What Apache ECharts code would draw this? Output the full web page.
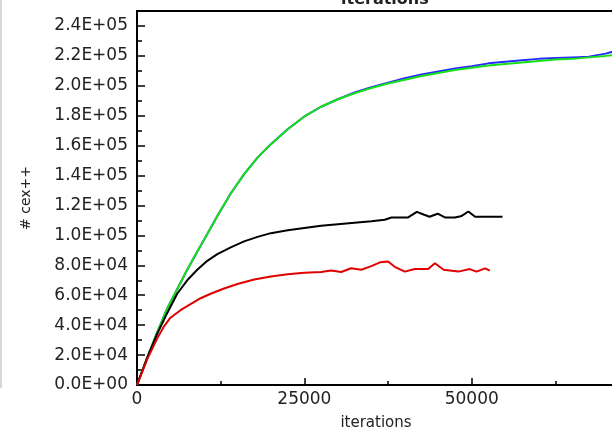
<!DOCTYPE html>
<html>
<head>
<meta charset="utf-8">
<script src="https://cdn.jsdelivr.net/npm/echarts@6/dist/echarts.min.js"></script>
<style>
  html, body { margin: 0; padding: 0; background: #fff; }
  #chart { width: 612px; height: 431px; }
</style>
</head>
<body>
<div id="chart"></div>
<script>
// iterations / values
const greenIter = [0, 1500, 3000, 4500, 6000, 7500, 9000, 10500, 12000, 14000, 16000, 18000, 20000, 22500, 25000, 27500, 30000, 32500, 35000, 37500, 40000, 42500, 45000, 47500, 50000, 52500, 55000, 57500, 60000, 62500, 65000, 67500, 70000, 72000];
const greenVal = [0, 18000, 35000, 51000, 64000, 77000, 89000, 101000, 113000, 128000, 141000, 152000, 161000, 171000, 179500, 186000, 191000, 195000, 198500, 201500, 204000, 206500, 208500, 210500, 212000, 213500, 214500, 215500, 216500, 217500, 218000, 219000, 220000, 221000];

const blueIter = [0, 1500, 3000, 4500, 6000, 7500, 9000, 10500, 12000, 14000, 16000, 18000, 20000, 22500, 25000, 27500, 30000, 32500, 35000, 37500, 40000, 42500, 45000, 47500, 50000, 52500, 55000, 57500, 60000, 62500, 65000, 67500, 70000, 72000];
const blueVal = [0, 18000, 35000, 51000, 64000, 77000, 89000, 101000, 113000, 128000, 141000, 152000, 161000, 171000, 179500, 186000, 191000, 195500, 199000, 202000, 205000, 207500, 209500, 211500, 213000, 215000, 216000, 217000, 218000, 218500, 219000, 219500, 221500, 224000];

const blackIter = [0, 1500, 3000, 4500, 6000, 7500, 9000, 10500, 12000, 14000, 16000, 18000, 20000, 22500, 25000, 27500, 30000, 32500, 35000, 37000, 38000, 40500, 41800, 42800, 43700, 44900, 46000, 47500, 48500, 49500, 50500, 54600];
const blackVal = [0, 18000, 34000, 48000, 61000, 70000, 77000, 83000, 87500, 92000, 96000, 99000, 101500, 103500, 105000, 106500, 107500, 108500, 109500, 110500, 112000, 112000, 115700, 114000, 112500, 114500, 112000, 112000, 113000, 116000, 112500, 112500];

const redIter = [0, 1500, 3000, 4000, 5000, 6500, 8000, 9500, 11000, 13000, 15000, 17500, 20000, 22500, 25000, 27500, 29000, 30500, 32000, 33500, 35000, 36300, 37500, 38500, 40000, 41500, 43500, 44500, 45800, 48000, 49700, 50700, 52000, 52700];
const redVal = [0, 17000, 31000, 39000, 45000, 50000, 54000, 58000, 61000, 64500, 67500, 70500, 72500, 74000, 75000, 75500, 76500, 75500, 78000, 77000, 79500, 82000, 82500, 79000, 75800, 77500, 77500, 81400, 77000, 75800, 77500, 75800, 78000, 76500];

const xTickValues = [0, 25000, 50000];

function zip(xs, ys) {
  return xs.map((x, i) => [x, ys[i]]);
}

function sci(v) {
  if (v === 0) return '0.0E+00';
  let e = Math.floor(Math.log10(v));
  let m = v / Math.pow(10, e);
  return m.toFixed(1) + 'E+' + (e < 10 ? '0' + e : e);
}

const font = 'DejaVu Sans';

const option = {
  animation: false,
  title: {
    text: 'iterations',
    left: 336,
    top: -13,
    textStyle: { fontFamily: font, fontSize: 16, fontWeight: 'bold', color: '#222' }
  },
  grid: {
    left: 137,
    right: -3,
    top: 11,
    bottom: 46,
    outerBoundsMode: 'none',
    show: true,
    borderColor: '#000',
    borderWidth: 2
  },
  graphic: [{
    type: 'line',
    shape: { x1: 1, y1: 0, x2: 1, y2: 388 },
    style: { stroke: '#d8d8d8', lineWidth: 2 }
  }],
  xAxis: {
    type: 'value',
    min: 0,
    max: 71400,
    interval: 25000,
    name: 'iterations',
    nameLocation: 'middle',
    nameGap: 31,
    nameTextStyle: { fontFamily: font, fontSize: 15, color: '#222' },
    axisLine: { lineStyle: { color: '#000', width: 2 } },
    axisTick: { inside: true, length: 7, lineStyle: { color: '#000', width: 1.5 } },
    minorTick: { show: true, splitNumber: 2, length: 4, lineStyle: { color: '#000', width: 1.5 } },
    axisLabel: {
      fontFamily: font, fontSize: 17, color: '#222', margin: 6,
      showMaxLabel: false,
      formatter: v => xTickValues.includes(v) ? String(v) : ''
    },
    splitLine: { show: false }
  },
  yAxis: {
    type: 'value',
    min: 0,
    max: 250000,
    interval: 20000,
    name: '# cex++',
    nameLocation: 'middle',
    nameGap: 104,
    nameTextStyle: { fontFamily: font, fontSize: 14, color: '#222' },
    axisLine: { lineStyle: { color: '#000', width: 2 } },
    axisTick: { inside: true, length: 8, lineStyle: { color: '#000', width: 1.5 } },
    minorTick: { show: true, splitNumber: 2, length: 5, lineStyle: { color: '#000', width: 1.5 } },
    axisLabel: {
      fontFamily: font, fontSize: 17, color: '#222', margin: 9,
      showMaxLabel: false,
      formatter: sci
    },
    splitLine: { show: false }
  },
  series: [
    {
      name: 'blue', type: 'line', showSymbol: false,
      lineStyle: { color: '#2a2aff', width: 2 },
      data: zip(blueIter, blueVal)
    },
    {
      name: 'green', type: 'line', showSymbol: false,
      lineStyle: { color: '#16e016', width: 2 },
      data: zip(greenIter, greenVal)
    },
    {
      name: 'black', type: 'line', showSymbol: false,
      lineStyle: { color: '#000', width: 2 },
      data: zip(blackIter, blackVal)
    },
    {
      name: 'red', type: 'line', showSymbol: false,
      lineStyle: { color: '#e00000', width: 2 },
      data: zip(redIter, redVal)
    }
  ]
};

const chart = echarts.init(document.getElementById('chart'));
chart.setOption(option);
window.addEventListener('resize', function () {
  chart.resize();
});
</script>
</body>
</html>
